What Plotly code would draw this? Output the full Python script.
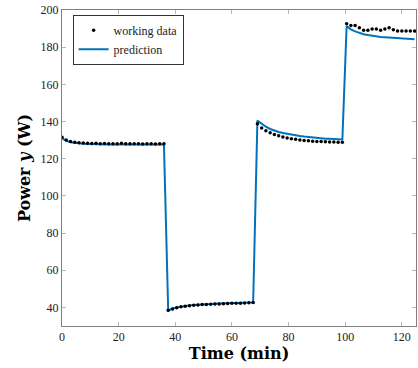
import plotly.graph_objects as go

# time stamps (min)
t_seg1 = [0, 1.5, 3, 4.5, 6, 7.5, 9, 10.5, 12, 13.5, 15, 16.5, 18, 19.5, 21, 22.5, 24, 25.5, 27, 28.5, 30, 31.5, 33, 34.5, 36]
t_seg2 = [37.5, 39, 40.5, 42, 43.5, 45, 46.5, 48, 49.5, 51, 52.5, 54, 55.5, 57, 58.5, 60, 61.5, 63, 64.5, 66, 67.5]
t_seg3 = [69, 70.5, 72, 73.5, 75, 76.5, 78, 79.5, 81, 82.5, 84, 85.5, 87, 88.5, 90, 91.5, 93, 94.5, 96, 97.5, 99]
t_seg4 = [100.5, 102, 103.5, 105, 106.5, 108, 109.5, 111, 112.5, 114, 115.5, 117, 118.5, 120, 121.5, 123, 124.5]

data_seg1 = [131.5, 130.0, 129.3, 128.9, 128.6, 128.4, 128.3, 128.2, 128.3, 128.1, 128.2, 128.0, 128.1,
             128.0, 128.3, 128.1, 128.0, 128.1, 128.0, 127.9, 128.1, 128.0, 127.9, 128.0, 128.0]
pred_seg1 = [131.0, 129.6, 128.9, 128.5, 128.2, 128.0, 127.9, 127.8, 127.8, 127.7, 127.7, 127.7, 127.7,
             127.6, 127.6, 127.6, 127.6, 127.6, 127.6, 127.6, 127.6, 127.6, 127.6, 127.6, 127.6]
data_seg2 = [38.5, 39.2, 39.8, 40.3, 40.6, 40.9, 41.1, 41.3, 41.5, 41.6, 41.7, 41.8, 41.9, 42.0, 42.1,
             42.2, 42.2, 42.3, 42.4, 42.5, 42.6]
pred_seg2 = [38.3, 39.4, 40.0, 40.5, 40.8, 41.1, 41.3, 41.5, 41.6, 41.8, 41.9, 42.0, 42.1, 42.2, 42.3,
             42.3, 42.4, 42.5, 42.5, 42.6, 42.7]
data_seg3 = [138.8, 136.5, 135.0, 133.9, 133.0, 132.3, 131.7, 131.2, 130.8, 130.4, 130.1, 129.8, 129.6,
             129.4, 129.3, 129.2, 129.1, 129.0, 129.0, 128.9, 128.9]
pred_seg3 = [140.5, 138.6, 137.2, 136.0, 135.1, 134.4, 133.8, 133.3, 132.9, 132.5, 132.2, 131.9, 131.6,
             131.4, 131.2, 131.0, 130.8, 130.7, 130.5, 130.4, 130.3]
data_seg4 = [192.6, 191.6, 191.6, 190.5, 189.1, 189.1, 189.8, 189.8, 189.1, 189.8, 190.5, 189.4, 188.7,
             188.7, 188.7, 188.7, 188.7]
pred_seg4 = [191.3, 189.6, 188.5, 187.6, 187.0, 186.5, 186.1, 185.8, 185.5, 185.3, 185.1, 184.9, 184.7,
             184.6, 184.5, 184.4, 184.2]

x_ticks = [0, 20, 40, 60, 80, 100, 120]
y_ticks = [40, 60, 80, 100, 120, 140, 160, 180, 200]

t_all = t_seg1 + t_seg2 + t_seg3 + t_seg4
data_all = data_seg1 + data_seg2 + data_seg3 + data_seg4
pred_all = pred_seg1 + pred_seg2 + pred_seg3 + pred_seg4

FONT = "Liberation Serif"
TITLE_FONT = "DejaVu Serif"

fig = go.Figure()
fig.add_trace(go.Scatter(x=t_all, y=pred_all, mode="lines", name="prediction",
                         line=dict(color="#0072BD", width=2)))
fig.add_trace(go.Scatter(x=t_all, y=data_all, mode="markers", name="working data",
                         marker=dict(color="black", size=3.5)))

axis_common = dict(showline=True, linecolor="#7f7f7f", linewidth=1, mirror="allticks",
                   ticks="inside", ticklen=4, tickcolor="#b8b8b8", showgrid=False, zeroline=False,
                   tickfont=dict(family=FONT, size=12, color="#222"))

fig.update_xaxes(range=[0, 125], tickvals=x_ticks,
                 title=dict(text="<b>Time (min)</b>", font=dict(family=TITLE_FONT, size=16, color="black"), standoff=3),
                 **axis_common)
fig.update_yaxes(range=[30, 200], tickvals=y_ticks,
                 title=dict(text="<b>Power <i>y</i> (W)</b>", font=dict(family=TITLE_FONT, size=16, color="black"), standoff=5),
                 **axis_common)

fig.update_layout(
    width=418, height=368,
    margin=dict(l=62, r=2, t=10, b=42),
    plot_bgcolor="white", paper_bgcolor="white",
    font=dict(family=FONT),
    legend=dict(x=0.03, y=0.985, xanchor="left", yanchor="top", traceorder="reversed",
                bordercolor="#333", borderwidth=1, bgcolor="white",
                font=dict(family=FONT, size=12, color="#222"), tracegroupgap=0,
                itemwidth=30),
    showlegend=True,
)

fig.write_html("out.html", config={"displayModeBar": False},
               post_script="document.body.style.margin='0';document.body.style.padding='0';")
